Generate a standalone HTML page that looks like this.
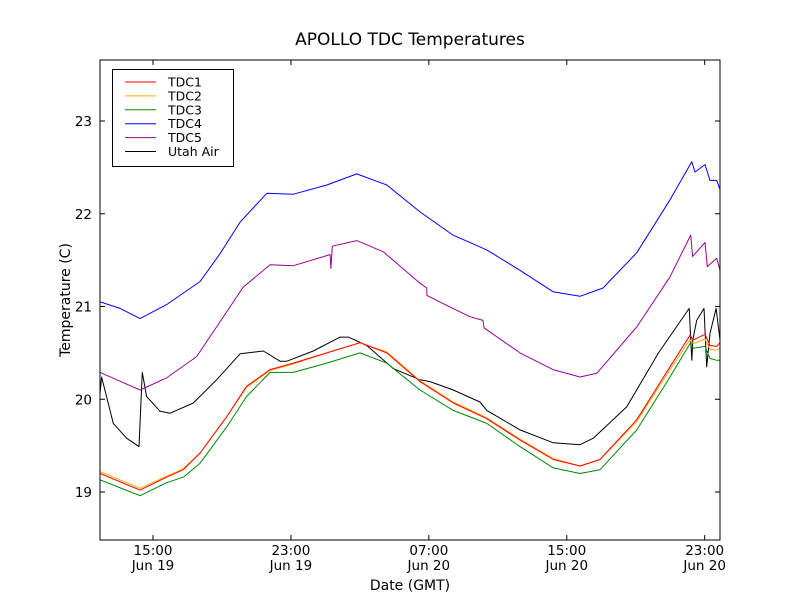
<!DOCTYPE html>
<html><head><meta charset="utf-8"><style>
body{margin:0;background:#fff;}
svg text{font-family:"DejaVu Sans","Liberation Sans",sans-serif;}
</style></head><body>
<svg id="chart" width="800" height="600" viewBox="0 0 800 600">
<rect x="0" y="0" width="800" height="600" fill="#fff"/>
<text x="410" y="45" font-size="17" text-anchor="middle">APOLLO TDC Temperatures</text>
<text x="410" y="590" font-size="14" text-anchor="middle">Date (GMT)</text>
<text transform="translate(70,300) rotate(-90)" font-size="14" text-anchor="middle">Temperature (C)</text>
<g id="plot"></g>
<g id="axes"></g>
<g id="legend"></g>
</svg>
<script>
const xTickHours=[0,8,16,24,32];
const xTickTimes=["15:00","23:00","07:00","15:00","23:00"];
const xTickDates=["Jun 19","Jun 19","Jun 20","Jun 20","Jun 20"];
const yTicks=[19,20,21,22,23];
const tdcHours=[-3.07,-0.75,0.79,1.76,2.73,4.27,5.43,6.79,8.14,10.08,12.01,13.56,15.49,17.42,19.36,21.29,23.22,24.77,25.93,28.06,29.99,31.15,31.34,32.02,32.31,32.70,32.89];
const tdc1=[19.20,19.02,19.16,19.24,19.42,19.81,20.14,20.32,20.39,20.50,20.61,20.50,20.19,19.96,19.79,19.56,19.35,19.28,19.35,19.78,20.35,20.69,20.64,20.70,20.58,20.57,20.61];
const tdc2=[19.22,19.04,19.17,19.25,19.42,19.81,20.13,20.31,20.38,20.50,20.61,20.51,20.20,19.97,19.80,19.57,19.36,19.28,19.35,19.76,20.32,20.64,20.60,20.65,20.54,20.53,20.55];
const tdc3=[19.13,18.96,19.10,19.16,19.31,19.70,20.03,20.29,20.29,20.39,20.50,20.39,20.10,19.88,19.74,19.49,19.26,19.20,19.24,19.67,20.24,20.60,20.55,20.57,20.44,20.42,20.42];
const tdc4Hours=[-3.07,-1.91,-0.75,0.79,2.73,3.89,5.05,6.6,8.12,10.08,11.82,13.56,15.49,17.40,19.36,21.29,23.20,24.77,26.1,28.06,29.99,31.25,31.44,32.02,32.31,32.70,32.89];
const tdc4=[21.05,20.98,20.87,21.02,21.27,21.57,21.91,22.22,22.21,22.31,22.43,22.31,22.02,21.77,21.61,21.39,21.16,21.11,21.20,21.58,22.15,22.56,22.45,22.53,22.36,22.36,22.26];
const tdc5Hours=[-3.07,-0.75,0.79,2.53,3.69,5.24,6.79,8.14,10.27,10.32,10.40,11.82,13.36,15.49,15.88,15.89,16.94,18.39,19.14,19.20,21.29,23.20,24.77,25.74,28.06,29.99,31.19,31.30,32.02,32.15,32.70,32.89];
const tdc5=[20.29,20.10,20.23,20.46,20.78,21.21,21.45,21.44,21.56,21.41,21.65,21.71,21.59,21.25,21.20,21.12,21.02,20.89,20.85,20.77,20.50,20.32,20.24,20.28,20.78,21.32,21.77,21.54,21.69,21.43,21.52,21.39];
const airHours=[-3.07,-2.98,-2.30,-1.53,-0.81,-0.62,-0.37,0.41,0.99,2.34,3.69,5.05,6.40,7.37,7.76,9.30,10.85,11.33,12.40,13.94,15.49,16.07,17.42,18.97,19.36,21.29,23.22,24.77,25.54,27.48,29.32,31.10,31.25,31.31,31.54,31.96,32.12,32.31,32.66,32.89];
const utahAir=[20.07,20.24,19.74,19.58,19.49,20.29,20.03,19.87,19.85,19.96,20.21,20.49,20.52,20.41,20.41,20.52,20.67,20.67,20.58,20.33,20.21,20.19,20.10,19.97,19.88,19.67,19.53,19.51,19.58,19.92,20.50,20.98,20.42,20.64,20.85,20.98,20.35,20.71,20.98,20.64];

const L=100,R=720,T=60,B=540;
const x=h=>153+17.24*h;
const y=v=>492-(v-19)*92.75;
const NS="http://www.w3.org/2000/svg";
function mk(tag,attrs,parent){const e=document.createElementNS(NS,tag);for(const k in attrs)e.setAttribute(k,attrs[k]);parent.appendChild(e);return e;}
const plot=document.getElementById('plot'),axes=document.getElementById('axes'),legend=document.getElementById('legend');
const cp=mk('clipPath',{id:'clip'},plot);
mk('rect',{x:L,y:T,width:R-L,height:B-T},cp);
const series=[
 {name:'TDC1',color:'#ff0000',xs:tdcHours,ys:tdc1,key:'tdc1-line'},
 {name:'TDC2',color:'#ffaa00',xs:tdcHours,ys:tdc2,key:'tdc2-line'},
 {name:'TDC3',color:'#008800',xs:tdcHours,ys:tdc3,key:'tdc3-line'},
 {name:'TDC4',color:'#0000ff',xs:tdc4Hours,ys:tdc4,key:'tdc4-line'},
 {name:'TDC5',color:'#990099',xs:tdc5Hours,ys:tdc5,key:'tdc5-line'},
 {name:'Utah Air',color:'#000000',xs:airHours,ys:utahAir,key:'utah-air-line'}
];
const drawOrder=[5,3,4,2,1,0];
drawOrder.forEach(i=>{const s=series[i];
 const d=s.xs.map((h,j)=>(j?'L':'M')+x(h).toFixed(1)+','+y(s.ys[j]).toFixed(1)).join('');
 const p=mk('path',{d:d,fill:'none',stroke:s.color,'stroke-width':'1','stroke-linejoin':'round','clip-path':'url(#clip)'},plot);
 
 
});
const frame=mk('rect',{x:L,y:T,width:R-L,height:B-T,fill:'none',stroke:'#000','stroke-width':'1'},axes);


xTickHours.forEach((h,i)=>{const px=x(h);
 mk('line',{x1:px,x2:px,y1:B,y2:B-5,stroke:'#000'},axes);
 mk('line',{x1:px,x2:px,y1:T,y2:T+5,stroke:'#000'},axes);
 const t=mk('text',{x:px,y:B+15,'font-size':'13.5','text-anchor':'middle'},axes);t.textContent=xTickTimes[i];
 
 
 const t2=mk('text',{x:px,y:B+30,'font-size':'13.5','text-anchor':'middle'},axes);t2.textContent=xTickDates[i];
 
 
});
yTicks.forEach(v=>{const py=y(v);
 mk('line',{x1:L,x2:L+5,y1:py,y2:py,stroke:'#000'},axes);
 mk('line',{x1:R,x2:R-5,y1:py,y2:py,stroke:'#000'},axes);
 const t=mk('text',{x:L-8,y:py+5,'font-size':'13.5','text-anchor':'end'},axes);t.textContent=v;
 
 
});
const lb=mk('rect',{x:112.5,y:69.5,width:121,height:97,fill:'#fff',stroke:'#000','stroke-width':'1'},legend);


series.forEach((s,i)=>{const ry=82+i*13.9;
 const g=mk('g',{},legend);
 
 
 mk('line',{x1:125,x2:156,y1:ry,y2:ry,stroke:s.color,'stroke-width':'1'},g);
 const t=mk('text',{x:168,y:ry+4.5,'font-size':'12.5'},g);t.textContent=s.name;
});
</script>
</body></html>
